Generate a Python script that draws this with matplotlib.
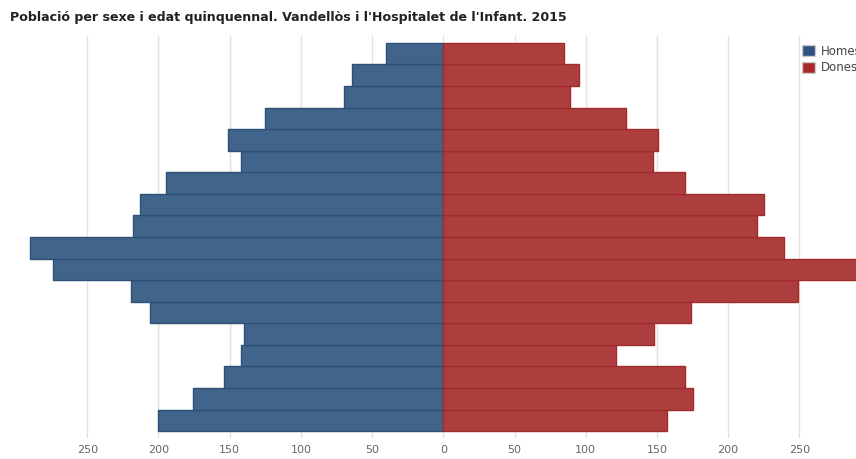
import matplotlib
matplotlib.use("Agg")
import matplotlib.pyplot as plt
from matplotlib.patches import Patch
import numpy as np

age_groups = ["0-4", "5-9", "10-14", "15-19", "20-24", "25-29", "30-34", "35-39",
              "40-44", "45-49", "50-54", "55-59", "60-64", "65-69", "70-74",
              "75-79", "80-84", "85+"]
# values listed from youngest (bottom) to oldest (top)
homes = [200, 176, 154, 142, 140, 206, 219, 274, 290, 218, 213, 195, 142, 151, 125, 70, 64, 40]
dones = [157, 175, 170, 121, 148, 174, 249, 300, 239, 220, 225, 170, 147, 151, 128, 89, 95, 85]
tick_vals = [-250, -200, -150, -100, -50, 0, 50, 100, 150, 200, 250]
tick_labels = [str(abs(v)) for v in tick_vals]
title = "Població per sexe i edat quinquennal. Vandellòs i l'Hospitalet de l'Infant. 2015"

fig = plt.figure(figsize=(8.56, 4.59), dpi=100)
ax = fig.add_axes([0.0, 1 - 438 / 459, 1.0, (438 - 36) / 459])

y = np.arange(len(age_groups))
blue = "#41658a"
blue_edge = "#2d5078"
red = "#ad3e3e"
red_edge = "#a32a2a"
ax.barh(y, [-v for v in homes], height=1.0, color=blue, edgecolor=blue_edge, linewidth=1.0, zorder=2)
ax.barh(y, dones, height=1.0, color=red, edgecolor=red_edge, linewidth=1.0, zorder=2)

ax.set_xlim(-311.3, 289.8)
ax.set_ylim(-0.82, 17.82)
ax.set_xticks(tick_vals)
ax.set_xticklabels(tick_labels, color="#666666", fontsize=8)
ax.set_yticks([])
ax.tick_params(axis="x", length=0, pad=5)
ax.grid(axis="x", color="#e2e2e2", linewidth=1, zorder=0)
ax.set_axisbelow(True)
for s in ax.spines.values():
    s.set_visible(False)

fig.text(10 / 856, 1 - 17 / 459, title, fontsize=9.1, fontweight="bold", color="#222222",
         va="center", ha="left")

handles = [Patch(facecolor="#2c5282", edgecolor="#cccccc", linewidth=1, label="Homes"),
           Patch(facecolor="#a8282c", edgecolor="#cccccc", linewidth=1, label="Dones")]
leg = ax.legend(handles=handles, loc="upper left", bbox_to_anchor=(797 / 856, 0.99),
                frameon=False, fontsize=8.5, handlelength=1.1, handleheight=1.1,
                handletextpad=0.5, labelspacing=0.3, borderaxespad=0)
for t in leg.get_texts():
    t.set_color("#444444")

fig.savefig("out.png", dpi=100)
